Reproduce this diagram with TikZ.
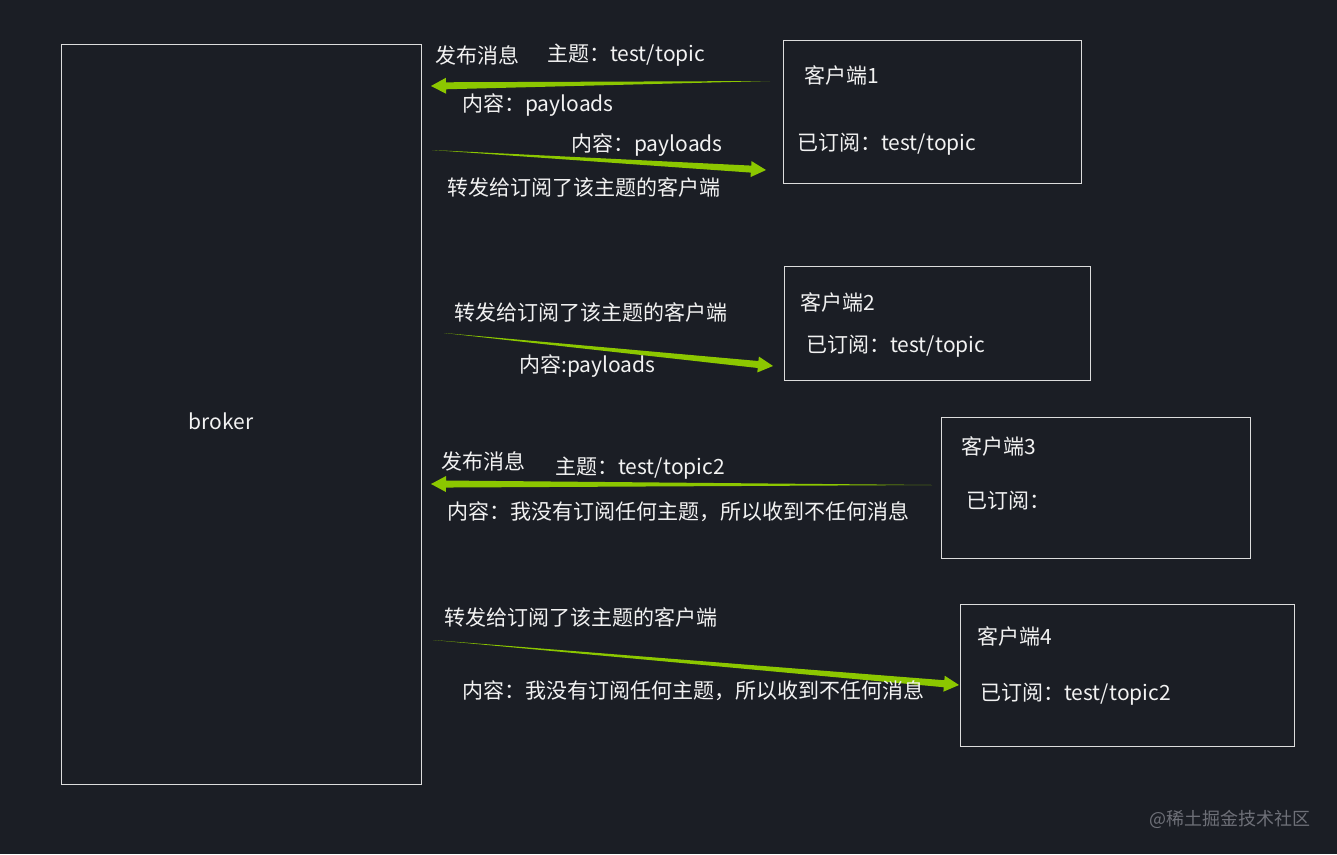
\documentclass[tikz,border=0pt]{standalone}
\usepackage{fontspec}
\setmainfont{Noto Sans CJK SC}
\usetikzlibrary{calc}
\definecolor{bg}{HTML}{1B1E25}
\definecolor{arrowgreen}{HTML}{8CC700}
\definecolor{txt}{HTML}{F2F2F2}
\definecolor{boxline}{HTML}{DDDDDD}
\definecolor{mark}{HTML}{6E7078}
\newcommand\greenarrow[2]{%
  \fill[arrowgreen] (#1) -- ($($(#2)!15pt!(#1)$)!3.5pt!90:(#2)$)
    -- ($($(#2)!15pt!(#1)$)!8pt!90:(#2)$) -- (#2)
    -- ($($(#2)!15pt!(#1)$)!8pt!-90:(#2)$)
    -- ($($(#2)!15pt!(#1)$)!3.5pt!-90:(#2)$) -- cycle;}
\begin{document}
\begin{tikzpicture}[x=1pt,y=-1pt,
  box/.style={draw=boxline,line width=0.8pt},
  lbl/.style={anchor=west,inner sep=0pt,text=txt,font=\fontsize{21}{25}\selectfont},
  wm/.style={anchor=east,inner sep=0pt,text=mark,font=\fontsize{18}{22}\selectfont}]
\useasboundingbox (0,0) rectangle (1337,854);
\fill[bg] (0,0) rectangle (1337,854);
% boxes
\draw[box] (61,44) rectangle (421,784);
\node[inner sep=0pt,text=txt,font=\fontsize{21}{25}\selectfont] (broker) at (221,421) {broker};
\draw[box] (783,40) rectangle (1081,183);
\node[lbl] (c1) at (804,75) {客户端1};
\node[lbl] (c1s) at (797,144) {已订阅：test/topic};
\draw[box] (784,266) rectangle (1090,380);
\node[lbl] (c2) at (800,302) {客户端2};
\node[lbl] (c2s) at (806,346) {已订阅：test/topic};
\draw[box] (941,417) rectangle (1250,558);
\node[lbl] (c3) at (961,446) {客户端3};
\node[lbl] (c3s) at (966,501) {已订阅：};
\draw[box] (960,604) rectangle (1294,746);
\node[lbl] (c4) at (977,636) {客户端4};
\node[lbl] (c4s) at (980,694) {已订阅：test/topic2};
% arrows
\coordinate (a1t) at (770,81); \coordinate (a1h) at (431,86);
\coordinate (a2t) at (432,150); \coordinate (a2h) at (766,170);
\coordinate (a3t) at (444,333); \coordinate (a3h) at (773,366);
\coordinate (a4t) at (932,485); \coordinate (a4h) at (431,484);
\coordinate (a5t) at (433,640); \coordinate (a5h) at (959,685);
\greenarrow{a1t}{a1h}
\greenarrow{a2t}{a2h}
\greenarrow{a3t}{a3h}
\greenarrow{a4t}{a4h}
\greenarrow{a5t}{a5h}
% labels
\node[lbl] (l1) at (435,55) {发布消息};
\node[lbl] (l2) at (547,55) {主题：test/topic};
\node[lbl] (l3) at (462,105) {内容：payloads};
\node[lbl] (l4) at (571,145) {内容：payloads};
\node[lbl] (l5) at (447,187) {转发给订阅了该主题的客户端};
\node[lbl] (l6) at (454,312) {转发给订阅了该主题的客户端};
\node[lbl] (l7) at (519,366) {内容:payloads};
\node[lbl] (l8) at (441,461) {发布消息};
\node[lbl] (l9) at (555,468) {主题：test/topic2};
\node[lbl] (l10) at (447,512) {内容：我没有订阅任何主题，所以收到不任何消息};
\node[lbl] (l11) at (444,617) {转发给订阅了该主题的客户端};
\node[lbl] (l12) at (462,691) {内容：我没有订阅任何主题，所以收到不任何消息};
\node[wm] (wmk) at (1311,819) {@稀土掘金技术社区};
\end{tikzpicture}
\end{document}
